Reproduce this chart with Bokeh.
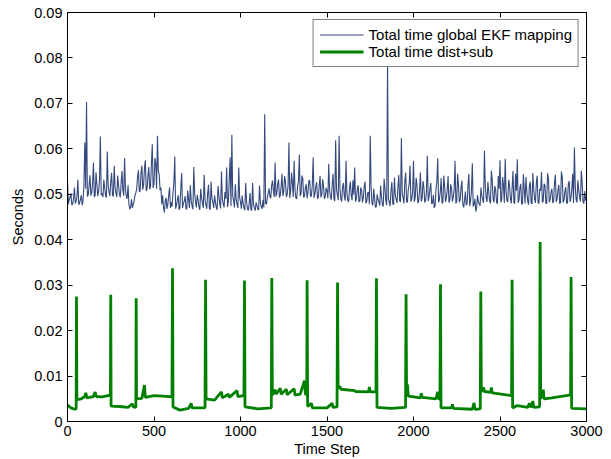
from bokeh.plotting import figure
from bokeh.models import Range1d, LinearAxis, FixedTicker, CustomJSTickFormatter
from bokeh.embed import file_html
from bokeh.resources import INLINE

# ---- data ----
x_ticks = [0, 500, 1000, 1500, 2000, 2500, 3000]
y_ticks = [0.0, 0.01, 0.02, 0.03, 0.04, 0.05, 0.06, 0.07, 0.08, 0.09]

label_ekf = "Total time global EKF mapping"
label_dist = "Total time dist+sub"

# Total time global EKF mapping, read at time steps 0, 10, ..., 3000
ekf_x_a = list(range(0, 3001, 10))
ekf_y_a = [
    0.0530, 0.0488, 0.0502, 0.0479, 0.0515, 0.0484, 0.0532, 0.0481, 0.0498, 0.0485,
    0.0614, 0.0703, 0.0499, 0.0542, 0.0503, 0.0570, 0.0498, 0.0521, 0.0507, 0.0627,
    0.0502, 0.0532, 0.0497, 0.0594, 0.0505, 0.0528, 0.0499, 0.0563, 0.0503, 0.0541,
    0.0500, 0.0525, 0.0508, 0.0580, 0.0495, 0.0520, 0.0467, 0.0489, 0.0478, 0.0498,
    0.0512, 0.0553, 0.0508, 0.0563, 0.0520, 0.0575, 0.0512, 0.0560, 0.0518, 0.0610,
    0.0522, 0.0568, 0.0629, 0.0545, 0.0515, 0.0498, 0.0460, 0.0492, 0.0478, 0.0515,
    0.0482, 0.0505, 0.0583, 0.0476, 0.0498, 0.0471, 0.0547, 0.0480, 0.0496, 0.0469,
    0.0488, 0.0520, 0.0474, 0.0560, 0.0482, 0.0499, 0.0472, 0.0512, 0.0480, 0.0543,
    0.0476, 0.0502, 0.0470, 0.0528, 0.0483, 0.0497, 0.0471, 0.0518, 0.0480, 0.0550,
    0.0479, 0.0505, 0.0559, 0.0484, 0.0581, 0.0631, 0.0486, 0.0522, 0.0478, 0.0559,
    0.0483, 0.0497, 0.0470, 0.0525, 0.0468, 0.0479, 0.0466, 0.0525, 0.0470, 0.0482,
    0.0467, 0.0519, 0.0472, 0.0488, 0.0676, 0.0478, 0.0502, 0.0495, 0.0520, 0.0508,
    0.0570, 0.0503, 0.0532, 0.0498, 0.0545, 0.0506, 0.0528, 0.0500, 0.0614, 0.0507,
    0.0525, 0.0574, 0.0492, 0.0518, 0.0587, 0.0502, 0.0535, 0.0496, 0.0522, 0.0504,
    0.0531, 0.0498, 0.0581, 0.0501, 0.0527, 0.0493, 0.0540, 0.0500, 0.0518, 0.0495,
    0.0508, 0.0567, 0.0494, 0.0522, 0.0490, 0.0619, 0.0498, 0.0629, 0.0489, 0.0516,
    0.0495, 0.0574, 0.0487, 0.0512, 0.0498, 0.0531, 0.0559, 0.0490, 0.0520, 0.0486,
    0.0509, 0.0493, 0.0528, 0.0484, 0.0505, 0.0629, 0.0481, 0.0512, 0.0471, 0.0500,
    0.0483, 0.0519, 0.0478, 0.0534, 0.0486, 0.0795, 0.0482, 0.0508, 0.0479, 0.0537,
    0.0489, 0.0515, 0.0486, 0.0624, 0.0492, 0.0530, 0.0484, 0.0512, 0.0563, 0.0490,
    0.0574, 0.0493, 0.0520, 0.0485, 0.0548, 0.0491, 0.0516, 0.0487, 0.0585, 0.0494,
    0.0525, 0.0481, 0.0470, 0.0512, 0.0579, 0.0489, 0.0536, 0.0483, 0.0518, 0.0492,
    0.0540, 0.0487, 0.0513, 0.0495, 0.0574, 0.0484, 0.0521, 0.0488, 0.0530, 0.0471,
    0.0506, 0.0480, 0.0545, 0.0486, 0.0568, 0.0478, 0.0462, 0.0498, 0.0479, 0.0515,
    0.0488, 0.0596, 0.0492, 0.0527, 0.0485, 0.0552, 0.0490, 0.0518, 0.0483, 0.0540,
    0.0575, 0.0489, 0.0520, 0.0578, 0.0486, 0.0532, 0.0491, 0.0514, 0.0483, 0.0545,
    0.0577, 0.0488, 0.0523, 0.0479, 0.0510, 0.0538, 0.0485, 0.0519, 0.0481, 0.0547,
    0.0490, 0.0526, 0.0483, 0.0512, 0.0549, 0.0486, 0.0520, 0.0480, 0.0535, 0.0489,
    0.0512, 0.0484, 0.0543, 0.0490, 0.0521, 0.0482, 0.0538, 0.0487, 0.0516, 0.0481,
    0.0529, 0.0492, 0.0545, 0.0603, 0.0488, 0.0531, 0.0494, 0.0552, 0.0483, 0.0507,
    0.0490,
]

# Same series, read at time steps 5, 15, ..., 2995
ekf_x_b = list(range(5, 3000, 10))
ekf_y_b = [
    0.0478, 0.0494, 0.0476, 0.0491, 0.0480, 0.0496, 0.0477, 0.0489, 0.0476, 0.0521,
    0.0512, 0.0495, 0.0520, 0.0497, 0.0525, 0.0494, 0.0548, 0.0496, 0.0531, 0.0498,
    0.0494, 0.0515, 0.0493, 0.0519, 0.0496, 0.0547, 0.0495, 0.0516, 0.0494, 0.0520,
    0.0493, 0.0551, 0.0497, 0.0512, 0.0490, 0.0478, 0.0472, 0.0470, 0.0485, 0.0503,
    0.0538, 0.0505, 0.0547, 0.0510, 0.0558, 0.0507, 0.0541, 0.0511, 0.0566, 0.0514,
    0.0580, 0.0512, 0.0550, 0.0509, 0.0478, 0.0471, 0.0485, 0.0468, 0.0498, 0.0470,
    0.0473, 0.0526, 0.0468, 0.0488, 0.0466, 0.0515, 0.0470, 0.0485, 0.0467, 0.0508,
    0.0470, 0.0486, 0.0467, 0.0502, 0.0471, 0.0487, 0.0466, 0.0492, 0.0470, 0.0488,
    0.0468, 0.0521, 0.0466, 0.0490, 0.0470, 0.0484, 0.0466, 0.0497, 0.0469, 0.0490,
    0.0471, 0.0490, 0.0472, 0.0535, 0.0474, 0.0496, 0.0471, 0.0489, 0.0470, 0.0493,
    0.0468, 0.0480, 0.0465, 0.0484, 0.0464, 0.0503, 0.0465, 0.0478, 0.0464, 0.0476,
    0.0466, 0.0482, 0.0468, 0.0471, 0.0480, 0.0492, 0.0513, 0.0491, 0.0530, 0.0494,
    0.0495, 0.0523, 0.0493, 0.0518, 0.0496, 0.0540, 0.0494, 0.0519, 0.0492, 0.0548,
    0.0494, 0.0510, 0.0490, 0.0527, 0.0496, 0.0541, 0.0493, 0.0515, 0.0491, 0.0529,
    0.0494, 0.0520, 0.0492, 0.0516, 0.0490, 0.0519, 0.0493, 0.0533, 0.0490, 0.0514,
    0.0491, 0.0508, 0.0488, 0.0545, 0.0485, 0.0510, 0.0487, 0.0512, 0.0484, 0.0525,
    0.0486, 0.0502, 0.0483, 0.0528, 0.0487, 0.0499, 0.0484, 0.0511, 0.0483, 0.0515,
    0.0482, 0.0517, 0.0480, 0.0503, 0.0478, 0.0515, 0.0476, 0.0492, 0.0473, 0.0489,
    0.0475, 0.0495, 0.0473, 0.0512, 0.0476, 0.0490, 0.0474, 0.0527, 0.0477, 0.0498,
    0.0481, 0.0543, 0.0483, 0.0502, 0.0480, 0.0548, 0.0482, 0.0521, 0.0484, 0.0505,
    0.0483, 0.0536, 0.0481, 0.0510, 0.0484, 0.0529, 0.0482, 0.0507, 0.0485, 0.0512,
    0.0479, 0.0499, 0.0475, 0.0528, 0.0482, 0.0506, 0.0480, 0.0541, 0.0483, 0.0510,
    0.0482, 0.0522, 0.0484, 0.0509, 0.0480, 0.0545, 0.0482, 0.0515, 0.0478, 0.0486,
    0.0476, 0.0519, 0.0474, 0.0508, 0.0473, 0.0490, 0.0471, 0.0483, 0.0475, 0.0497,
    0.0481, 0.0518, 0.0483, 0.0505, 0.0480, 0.0533, 0.0482, 0.0510, 0.0479, 0.0512,
    0.0482, 0.0538, 0.0481, 0.0507, 0.0483, 0.0520, 0.0480, 0.0551, 0.0479, 0.0508,
    0.0481, 0.0514, 0.0478, 0.0544, 0.0480, 0.0506, 0.0477, 0.0528, 0.0479, 0.0510,
    0.0481, 0.0541, 0.0479, 0.0508, 0.0482, 0.0523, 0.0480, 0.0546, 0.0482, 0.0505,
    0.0481, 0.0526, 0.0483, 0.0509, 0.0479, 0.0550, 0.0482, 0.0506, 0.0480, 0.0524,
    0.0483, 0.0512, 0.0481, 0.0518, 0.0482, 0.0509, 0.0484, 0.0525, 0.0480, 0.0486,
]

# Total time dist+sub (key points)
dist_x = [
    0, 20, 40, 50, 52, 54, 80, 100, 106, 112, 150, 160, 166, 200, 248,
    250, 252, 300, 350, 375, 380, 395,
    397, 399, 430, 445, 450, 500, 550, 604,
    607, 610, 650, 700, 715, 720, 795,
    798, 801, 850, 890, 895, 930, 935, 980, 985, 1020,
    1023, 1026, 1100, 1178,
    1181, 1184, 1200, 1205, 1230, 1235, 1265, 1270, 1310, 1315, 1345, 1370, 1375, 1383,
    1385, 1388, 1410, 1415, 1500, 1530, 1535, 1558,
    1561, 1564, 1575, 1580, 1660, 1665, 1740, 1745, 1750, 1783,
    1786, 1789, 1870, 1954,
    1957, 1960, 1965, 1970, 2040, 2045, 2050, 2130, 2140, 2145, 2153,
    2156, 2159, 2220, 2225, 2230, 2340, 2350, 2355, 2386,
    2389, 2392, 2405, 2410, 2445, 2450, 2455, 2567,
    2570, 2573, 2600, 2660, 2670, 2680, 2690, 2695, 2729,
    2732, 2735, 2750, 2755, 2800, 2900, 2908,
    2911, 2914, 3000,
]
dist_y = [
    0.0036, 0.0030, 0.0027, 0.0028, 0.0275, 0.0048, 0.0050, 0.0055, 0.0063, 0.0052, 0.0055, 0.0065, 0.0055, 0.0054, 0.0058,
    0.0279, 0.0034, 0.0033, 0.0031, 0.0039, 0.0032, 0.0031,
    0.0271, 0.0050, 0.0051, 0.0080, 0.0053, 0.0057, 0.0056, 0.0054,
    0.0337, 0.0032, 0.0025, 0.0029, 0.0040, 0.0030, 0.0030,
    0.0312, 0.0050, 0.0047, 0.0065, 0.0052, 0.0060, 0.0053, 0.0068, 0.0055, 0.0057,
    0.0310, 0.0032, 0.0028, 0.0030,
    0.0316, 0.0058, 0.0070, 0.0060, 0.0073, 0.0060, 0.0071, 0.0059, 0.0072, 0.0058, 0.0060, 0.0090, 0.0060, 0.0060,
    0.0311, 0.0033, 0.0040, 0.0030, 0.0030, 0.0040, 0.0031, 0.0032,
    0.0306, 0.0074, 0.0077, 0.0071, 0.0068, 0.0066, 0.0065, 0.0076, 0.0065, 0.0065,
    0.0315, 0.0031, 0.0029, 0.0031,
    0.0280, 0.0060, 0.0082, 0.0056, 0.0052, 0.0062, 0.0053, 0.0050, 0.0065, 0.0050, 0.0049,
    0.0302, 0.0030, 0.0030, 0.0038, 0.0029, 0.0027, 0.0041, 0.0027, 0.0028,
    0.0286, 0.0065, 0.0075, 0.0066, 0.0064, 0.0075, 0.0063, 0.0057,
    0.0312, 0.0030, 0.0035, 0.0031, 0.0040, 0.0031, 0.0045, 0.0031, 0.0032,
    0.0395, 0.0050, 0.0070, 0.0050, 0.0052, 0.0058, 0.0058,
    0.0318, 0.0029, 0.0028,
]

# merge the two readings of the EKF series in time order
ekf_pairs = sorted(zip(ekf_x_a + ekf_x_b, ekf_y_a + ekf_y_b))
ekf_x = [pt[0] for pt in ekf_pairs]
ekf_y = [pt[1] for pt in ekf_pairs]

FONT = "Liberation Sans"

p = figure(
    width=611, height=459,
    x_range=Range1d(0, 3000), y_range=Range1d(0, 0.09),
    output_backend="svg", toolbar_location=None,
    min_border_left=67, min_border_right=25, min_border_top=12, min_border_bottom=38,
    x_axis_label="Time Step", y_axis_label="Seconds",
)
p.grid.visible = False
p.outline_line_color = "black"
p.outline_line_width = 1
p.background_fill_color = "white"
p.border_fill_color = "white"

p.line(ekf_x, ekf_y, line_color="#34497e", line_width=1.1, legend_label=label_ekf)
p.line(dist_x, dist_y, line_color="#008000", line_width=2.8, legend_label=label_dist)

p.xaxis.ticker = FixedTicker(ticks=x_ticks)
p.yaxis.ticker = FixedTicker(ticks=y_ticks)
p.yaxis.formatter = CustomJSTickFormatter(code="return tick == 0 ? '0' : tick.toFixed(2);")

for ax in (p.xaxis[0], p.yaxis[0]):
    ax.major_tick_in = 5
    ax.major_tick_out = 0
    ax.minor_tick_in = 0
    ax.minor_tick_out = 0
    ax.axis_line_color = "black"
    ax.major_tick_line_color = "black"
    ax.major_label_text_color = "black"
    ax.major_label_text_font = FONT
    ax.major_label_text_font_size = "14.5px"
    ax.axis_label_text_font = FONT
    ax.axis_label_text_font_size = "14.5px"
    ax.axis_label_text_font_style = "normal"
    ax.axis_label_text_color = "black"

p.xaxis.major_label_standoff = 4
p.xaxis.axis_label_standoff = 2
p.yaxis.major_label_standoff = 5
p.yaxis.axis_label_standoff = 5

for loc, ticks in (("right", y_ticks), ("above", x_ticks)):
    ax = LinearAxis(ticker=FixedTicker(ticks=ticks))
    ax.formatter = CustomJSTickFormatter(code="return '';")
    ax.major_label_standoff = 0
    ax.major_tick_in = 5
    ax.major_tick_out = 0
    ax.minor_tick_in = 0
    ax.minor_tick_out = 0
    ax.axis_line_color = "black"
    ax.major_tick_line_color = "black"
    p.add_layout(ax, loc)

lg = p.legend[0]
lg.location = "top_right"
lg.margin = 7
lg.padding = 6
lg.spacing = 0
lg.label_height = 15
lg.glyph_height = 15
lg.glyph_width = 44
lg.label_standoff = 5
lg.label_text_font = FONT
lg.label_text_font_size = "15px"
lg.label_text_color = "black"
lg.border_line_color = "black"
lg.border_line_width = 1
lg.background_fill_color = "white"
lg.background_fill_alpha = 1.0

open("out.html", "w").write(file_html(p, INLINE))
